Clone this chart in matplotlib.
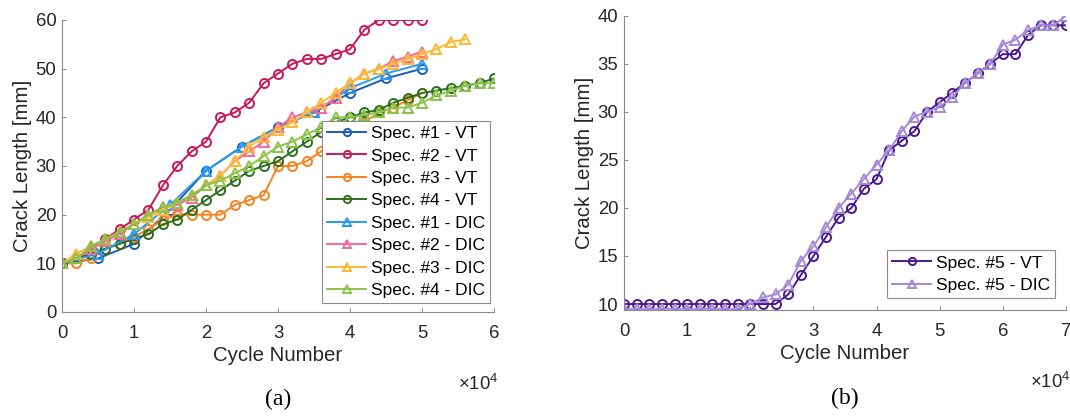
import matplotlib
matplotlib.use("Agg")
import matplotlib.pyplot as plt
from matplotlib.ticker import FuncFormatter

plt.rcParams['font.family'] = ['Liberation Sans', 'DejaVu Sans']
plt.rcParams['mathtext.fontset'] = 'custom'
plt.rcParams['mathtext.rm'] = 'Liberation Sans'
plt.rcParams['mathtext.it'] = 'Liberation Sans'

# cycle counts
cyc_5k = [0, 5000, 10000, 15000, 20000, 25000, 30000, 35000, 40000, 45000, 50000]
cyc_50k = list(range(0, 50001, 2000))
cyc_56k = list(range(0, 56001, 2000))
cyc_60k = list(range(0, 60001, 2000))
cyc_70k = list(range(0, 70001, 2000))

# crack length [mm], panel (a)
spec1_vt = [10, 11, 14, 21, 29, 34, 38, 41, 45, 48, 50]
spec2_vt = [10, 11, 13, 15, 17, 19, 21, 26, 30, 33, 35, 40, 41, 43, 47, 49, 51, 52, 52, 53,
            54, 58, 60, 60, 60, 60]
spec3_vt = [10, 10, 11, 13, 14, 15.5, 17, 19, 20, 20, 20, 20, 22, 23, 24, 30, 30, 31, 33, 35,
            37, 39, 41, 42, 43.5, 45]
spec4_vt = [10, 11, 12, 13, 14, 15, 16, 18, 19, 21, 23, 25, 27, 29, 30, 31, 33, 35, 37, 39,
            40, 41, 41.5, 43, 44, 45, 45.5, 46, 46.5, 47, 48]
spec1_dic = [10, 12, 16, 22, 29, 34, 38, 41, 46, 49, 51]
spec2_dic = [10, 11, 13, 14.5, 16, 18, 20, 21.5, 22, 23.5, 26, 28, 31, 33, 35, 38, 40, 41, 42, 44,
             47, 49, 50, 51.5, 52.5, 53.5]
spec3_dic = [10, 12, 13.5, 15, 16.5, 18, 19.5, 21, 22.5, 24, 26, 28, 31, 34, 36, 37.5, 39, 41, 43, 45,
             47, 49, 50, 51, 52, 53, 54, 55.5, 56]
spec4_dic = [10, 11, 13.5, 15, 16.5, 18, 20, 21.5, 22.5, 24, 26, 27, 28.5, 30, 32, 34, 35, 36.5, 38, 40,
             40, 40.5, 41, 42, 42, 43, 44.5, 45.5, 46.5, 47, 47]

# panel (b)
spec5_vt = [10] * 13 + [11, 13, 15, 17, 19, 20, 22, 23, 26, 27, 28, 30, 31, 32, 33, 34, 35, 36, 36,
                        38, 39, 39, 39]
spec5_dic = [9.5] * 10 + [10, 10.7, 11, 12, 14.5, 16, 18, 20, 21.5, 23, 24.5, 26, 28, 29.5, 30, 30.5,
                          31.5, 33, 34, 35, 37, 37.5, 38.5, 39, 39, 40]

series_a = [
    (cyc_5k, spec1_vt, 'Spec. #1 - VT', '#1b5cb8', 'o'),
    (cyc_50k, spec2_vt, 'Spec. #2 - VT', '#c8195a', 'o'),
    (cyc_50k, spec3_vt, 'Spec. #3 - VT', '#f5841f', 'o'),
    (cyc_60k, spec4_vt, 'Spec. #4 - VT', '#2e6e1e', 'o'),
    (cyc_5k, spec1_dic, 'Spec. #1 - DIC', '#2a99f2', '^'),
    (cyc_50k, spec2_dic, 'Spec. #2 - DIC', '#f06b9c', '^'),
    (cyc_56k, spec3_dic, 'Spec. #3 - DIC', '#fdb933', '^'),
    (cyc_60k, spec4_dic, 'Spec. #4 - DIC', '#8cc34a', '^'),
]
series_b = [
    (cyc_70k, spec5_vt, 'Spec. #5 - VT', '#4a1a8c', 'o'),
    (cyc_70k, spec5_dic, 'Spec. #5 - DIC', '#a48ad8', '^'),
]

fig = plt.figure(figsize=(10.7, 4.18), dpi=100)
ax1 = fig.add_axes([62 / 1070, 1 - 312 / 418, 432 / 1070, 292 / 418])
ax2 = fig.add_axes([624 / 1070, 1 - 310 / 418, 442 / 1070, 294.3 / 418])

tick_fmt = FuncFormatter(lambda v, p: '%g' % (v / 1e4))
axis_gray = '#8a8a8a'
text_col = '#262626'


def style(ax, series, xmax, ylim, yticks, label, leg_anchor, leg_loc):
    for x, y, name, col, mk in series:
        ax.plot(x, y, marker=mk, color=col, mfc='none', mec=col, ms=6.5, mew=1.4,
                lw=1.4, label=name)
    ax.set_xlim(0, xmax)
    ax.set_ylim(*ylim)
    ax.set_xticks(range(0, xmax + 1, 10000))
    ax.set_yticks(yticks)
    ax.xaxis.set_major_formatter(tick_fmt)
    for s in ['top', 'right']:
        ax.spines[s].set_visible(False)
    for s in ['left', 'bottom']:
        ax.spines[s].set_color(axis_gray)
        ax.spines[s].set_linewidth(0.8)
    ax.tick_params(direction='in', length=3, width=0.7, color=axis_gray,
                   labelsize=13.3, labelcolor=text_col)
    ax.tick_params(axis='x', pad=9)
    ax.tick_params(axis='y', pad=4)
    ax.set_xlabel('Cycle Number', fontsize=14.7, color=text_col, labelpad=3)
    ax.set_ylabel('Crack Length [mm]', fontsize=14.7, color=text_col, labelpad=3)
    ax.text(1.01, -0.245, r'$\times\mathregular{10^{4}}$', transform=ax.transAxes,
            ha='right', va='center', fontsize=13.3, color=text_col)
    ax.text(0.5, -0.30, label, transform=ax.transAxes, ha='center', va='center',
            fontsize=17, family=['Liberation Serif', 'DejaVu Serif'], color='black')
    leg = ax.legend(loc=leg_loc, bbox_to_anchor=leg_anchor, borderaxespad=0,
                    fontsize=12.5, handlelength=2.25, handletextpad=0.25,
                    borderpad=0.3, labelspacing=0.42, fancybox=False, framealpha=1,
                    edgecolor='#8c8c8c', markerscale=0.8)
    leg.get_frame().set_linewidth(0.8)
    for t in leg.get_texts():
        t.set_color('black')


style(ax1, series_a, 60000, (0, 60), range(0, 61, 10), '(a)', (0.602, 0.655), 'upper left')
style(ax2, series_b, 70000, (9.38, 40), range(10, 41, 5), '(b)', (0.975, 0.04), 'lower right')

fig.savefig('out.png', dpi=100)
